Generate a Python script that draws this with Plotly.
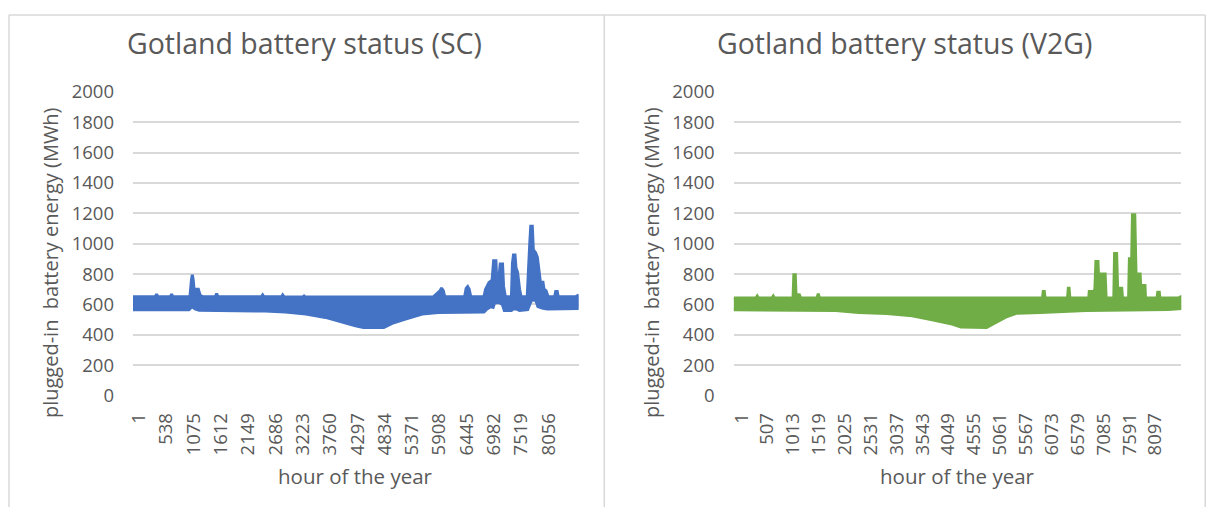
import plotly.graph_objects as go

W, H = 1207, 518

# ---------------- data ----------------
x_tick_labels_sc = ["1", "538", "1075", "1612", "2149", "2686", "3223", "3760", "4297",
                    "4834", "5371", "5908", "6445", "6982", "7519", "8056"]
x_tick_labels_v2g = ["1", "507", "1013", "1519", "2025", "2531", "3037", "3543", "4049",
                     "4555", "5061", "5567", "6073", "6579", "7085", "7591", "8097"]
y_ticks = [0, 200, 400, 600, 800, 1000, 1200, 1400, 1600, 1800, 2000]

# SC: upper and lower envelope of the hourly battery energy band (MWh)
sc_upper_hours = [1, 440, 465, 490, 735, 760, 785, 1120, 1150, 1167, 1185, 1210, 1250, 1285, 1320,
                  1380, 1620, 1645, 1670, 2525, 2550, 2575, 2920, 2944, 2970, 3340, 3364, 3390,
                  5900, 5960, 6040, 6065, 6100, 6130, 6520, 6550, 6580, 6610, 6640,
                  6900, 6931, 7000, 7060, 7090, 7135, 7150, 7190, 7220, 7265, 7285, 7320,
                  7440, 7460, 7480, 7510, 7530, 7560, 7600, 7630,
                  7750, 7775, 7800, 7820, 7850, 7870, 7915, 7950, 7990, 8010, 8060, 8080, 8120, 8160,
                  8290, 8310, 8340, 8360, 8700, 8760]
sc_upper_values = [650, 650, 668, 650, 650, 668, 650, 650, 760, 795, 760, 665, 700, 700, 660,
                   650, 650, 672, 650, 650, 662, 650, 650, 662, 650, 648, 655, 648,
                   648, 665, 690, 708, 690, 650, 650, 705, 717, 700, 650,
                   650, 700, 745, 760, 888, 888, 760, 760, 866, 866, 720, 650,
                   650, 870, 925, 925, 840, 812, 700, 650,
                   650, 895, 1000, 1115, 1115, 960, 940, 910, 820, 745, 745, 700, 690, 650,
                   650, 684, 684, 650, 650, 662]
sc_lower_hours = [1, 1100, 1160, 1220, 1300, 2000, 2600, 3000, 3400, 3784, 4046, 4375, 4530,
                  4930, 5095, 5357, 5685, 6000, 6900, 6960, 7030, 7080, 7110, 7200, 7260, 7300,
                  7440, 7480, 7530, 7600, 7760, 7800, 7840, 7920, 7960, 8060, 8150, 8760]
sc_lower_values = [565, 565, 585, 570, 562, 560, 556, 550, 536, 514, 488, 459, 448,
                   448, 475, 503, 536, 547, 550, 570, 585, 580, 610, 612, 600, 560,
                   560, 570, 570, 560, 565, 600, 630, 625, 585, 575, 570, 572]

# V2G: upper and lower envelope of the hourly battery energy band (MWh)
v2g_upper_hours = [1, 440, 464, 490, 750, 777, 800, 1165, 1180, 1208, 1222, 1291, 1310,
                   1635, 1657, 1680, 6045, 6060, 6080, 6095, 6535, 6550, 6565, 6580,
                   6950, 6960, 7050, 7070, 7090, 7130, 7150, 7180, 7195, 7270, 7290,
                   7440, 7455, 7495, 7515, 7595, 7610,
                   7730, 7745, 7790, 7805, 7850, 7875, 7955, 7965, 8050, 8060,
                   8285, 8300, 8330, 8340, 8700, 8760]
v2g_upper_values = [642, 642, 655, 642, 642, 655, 642, 642, 795, 795, 665, 662, 642,
                    642, 670, 642, 642, 685, 685, 642, 642, 706, 706, 642,
                    642, 685, 685, 700, 882, 882, 700, 700, 800, 800, 642,
                    642, 935, 935, 706, 706, 642,
                    642, 900, 900, 1190, 1190, 800, 800, 725, 725, 642,
                    642, 680, 680, 642, 642, 652]
v2g_lower_hours = [1, 1000, 2000, 2450, 3000, 3495, 3886, 4277, 4450, 4950, 5150, 5352,
                   5547, 6000, 6900, 7000, 8500, 8760]
v2g_lower_values = [564, 564, 560, 547, 540, 525, 498, 470, 450, 448, 481, 520,
                    542, 547, 560, 564, 566, 573]

# ---------------- styling ----------------
TEXT = "#595959"
GRID = "#D9D9D9"
FONT = "Open Sans"
BLUE = "#4472C4"
GREEN = "#70AD47"

# the photographed page places the figure at a small offset/scale; map target
# picture pixels to figure pixels accordingly
OFF_X, SC_X = 7.7, 0.9934
OFF_Y, SC_Y = 12.5, 0.9545


def fx(p):
    return (p - OFF_X) / SC_X


def fy(p):
    return (p - OFF_Y) / SC_Y


def px_x(p):
    return fx(p) / W


def px_y(p):
    return 1 - fy(p) / H


def tick_positions(labels):
    return [int(t) for t in labels]


fig = go.Figure()


def band(hu, vu, hl, vl, color, xa, ya):
    xs = list(hu) + list(reversed(hl))
    ys = list(vu) + list(reversed(vl))
    fig.add_trace(go.Scatter(x=xs, y=ys, mode="lines", fill="toself", fillcolor=color,
                             line=dict(color=color, width=3), xaxis=xa, yaxis=ya,
                             hoverinfo="skip", showlegend=False))


band(sc_upper_hours, sc_upper_values, sc_lower_hours, sc_lower_values, BLUE, "x", "y")
band(v2g_upper_hours, v2g_upper_values, v2g_lower_hours, v2g_lower_values, GREEN, "x2", "y2")

y_dom = [px_y(395), px_y(90.7)]
common_x = dict(range=[1, 8760], showgrid=False, zeroline=False, showline=False, ticks="",
                tickangle=-90, tickfont=dict(family=FONT, size=18.5, color=TEXT),
                ticklabelstandoff=13, fixedrange=True)
common_y = dict(range=[0, 2000], tickvals=y_ticks, showgrid=True, gridcolor=GRID, gridwidth=1.5,
                zeroline=False, showline=False, ticks="",
                tickfont=dict(family=FONT, size=18.5, color=TEXT), ticklabelstandoff=18,
                fixedrange=True)

fig.update_layout(
    width=W, height=H,
    margin=dict(l=0, r=0, t=0, b=0),
    paper_bgcolor="white", plot_bgcolor="white",
    xaxis=dict(domain=[px_x(132.7), px_x(578.3)], anchor="y",
               tickvals=tick_positions(x_tick_labels_sc), ticktext=x_tick_labels_sc,
               ticklabelshift=6, **common_x),
    yaxis=dict(domain=y_dom, anchor="x", **common_y),
    xaxis2=dict(domain=[px_x(733.3), px_x(1181)], anchor="y2",
                tickvals=tick_positions(x_tick_labels_v2g), ticktext=x_tick_labels_v2g,
                ticklabelshift=8, **common_x),
    yaxis2=dict(domain=y_dom, anchor="x2", **common_y),
    showlegend=False,
)

# chart borders (open at the bottom, kept inside the figure)
top_f = 1.0 / H
left_f = 1.0 / W
mid_f = px_x(604)
right_f = min(px_x(1205), 1 - 1.0 / W)
border_lines = [
    (left_f, 1 - top_f, left_f, 0), (left_f, 1 - top_f, right_f, 1 - top_f),
    (mid_f, 1 - top_f, mid_f, 0), (right_f, 1 - top_f, right_f, 0),
]
for x0, y0, x1, y1 in border_lines:
    fig.add_shape(type="line", xref="paper", yref="paper", x0=x0, x1=x1, y0=y0, y1=y1,
                  line=dict(color=GRID, width=1.5), layer="below")

annos = [
    ("Gotland battery status (SC)", 303.75, 42, 28.5, 0),
    ("Gotland battery status (V2G)", 904.5, 42, 28.5, 0),
    ("hour of the year", 355.5, 476, 20.5, 0),
    ("hour of the year", 957, 476, 20.5, 0),
    ("plugged-in  battery energy (MWh)", 50, 262, 20, -90),
    ("plugged-in  battery energy (MWh)", 651, 262, 20, -90),
]
for text, x, y, size, ang in annos:
    fig.add_annotation(text=text.replace("  ", "&nbsp; "), xref="paper", yref="paper",
                       x=px_x(x), y=px_y(y), xanchor="center", yanchor="middle",
                       showarrow=False, textangle=ang,
                       font=dict(family=FONT, size=size, color=TEXT))

fig.write_html("out.html", post_script="document.body.style.margin='0px';",
               config={"displayModeBar": False})
